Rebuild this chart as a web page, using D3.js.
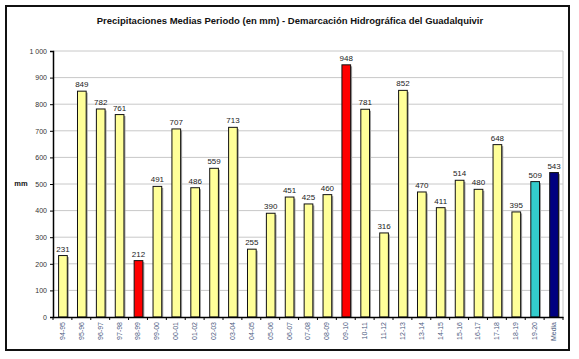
<!DOCTYPE html>
<html><head><meta charset="utf-8">
<script src="https://cdn.jsdelivr.net/npm/d3@7"></script>
<style>body{margin:0;background:#fff}svg{display:block;font-family:Arial,"Liberation Sans",sans-serif}</style>
</head><body>
<svg id="c" width="579" height="359"></svg>
<script>
const categories = ["94-95","95-96","96-97","97-98","98-99","99-00","00-01","01-02","02-03","03-04","04-05","05-06","06-07","07-08","08-09","09-10","10-11","11-12","12-13","13-14","14-15","15-16","16-17","17-18","18-19","19-20","Media"];
const values = [231,849,782,761,212,491,707,486,559,713,255,390,451,425,460,948,781,316,852,470,411,514,480,648,395,509,543];
const barColors = ["#FFFF99","#FFFF99","#FFFF99","#FFFF99","#FF0000","#FFFF99","#FFFF99","#FFFF99","#FFFF99","#FFFF99","#FFFF99","#FFFF99","#FFFF99","#FFFF99","#FFFF99","#FF0000","#FFFF99","#FFFF99","#FFFF99","#FFFF99","#FFFF99","#FFFF99","#FFFF99","#FFFF99","#FFFF99","#33CCCC","#000080"];
const yTicks = [0,100,200,300,400,500,600,700,800,900,1000];
const yTickLabels = ["0","100","200","300","400","500","600","700","800","900","1 000"];
const title = "Precipitaciones Medias Periodo (en mm) - Demarcación Hidrográfica del Guadalquivir";

const svg = d3.select("#c");
const L = 53, R = 563, T = 51, B = 317;
const x = d3.scaleBand().domain(categories).range([L, R]).paddingInner(0).paddingOuter(0);
const y = d3.scaleLinear().domain([0, 1000]).range([B, T]);

// outer frame
svg.append("rect").attr("x", 6).attr("y", 6).attr("width", 563).attr("height", 344)
  .attr("fill", "#fff").attr("stroke", "#111").attr("stroke-width", 2);

// title
svg.append("text").attr("x", 290).attr("y", 24).attr("text-anchor", "middle")
  .attr("font-size", 9.5).attr("font-weight", "bold").attr("fill", "#111").text(title);

// gridlines
svg.append("g").selectAll("line").data(yTicks.slice(1)).join("line")
  .attr("x1", L).attr("x2", R).attr("y1", d => y(d)).attr("y2", d => y(d))
  .attr("stroke", "#c8c8c8").attr("stroke-width", 1);
// plot border right
svg.append("line").attr("x1", R).attr("x2", R).attr("y1", T).attr("y2", B)
  .attr("stroke", "#c8c8c8").attr("stroke-width", 1);

// bars shadow
const bw = x.bandwidth() * 0.46;
const bx = d => x(d) + (x.bandwidth() - bw) / 2 + 0.5;
svg.append("g").selectAll("rect").data(categories).join("rect")
  .attr("x", d => bx(d) + 1.5).attr("y", (d, i) => y(values[i]) + 1.5)
  .attr("width", bw).attr("height", (d, i) => B - y(values[i]) - 1.5)
  .attr("fill", "#a0a0a0");
svg.append("g").selectAll("rect").data(categories).join("rect")
  .attr("x", d => bx(d)).attr("y", (d, i) => y(values[i]))
  .attr("width", bw).attr("height", (d, i) => B - y(values[i]))
  .attr("fill", (d, i) => barColors[i]).attr("stroke", "#111").attr("stroke-width", 1);

// value labels
svg.append("g").selectAll("text").data(categories).join("text")
  .attr("x", d => x(d) + x.bandwidth() / 2 + 0.5).attr("y", (d, i) => y(values[i]) - 4)
  .attr("text-anchor", "middle").attr("font-size", 8).attr("fill", "#222")
  .text((d, i) => values[i]);

// y axis
const yAxis = d3.axisLeft(y).tickValues(yTicks).tickSize(3)
  .tickFormat((d, i) => yTickLabels[i]);
const gy = svg.append("g").attr("transform", `translate(${L},0)`).call(yAxis);
gy.select(".domain").attr("stroke", "#000").attr("stroke-width", 1.5);
gy.selectAll(".tick line").attr("stroke", "#000");
gy.selectAll(".tick text").attr("font-size", 7).attr("fill", "#333").attr("x", -6)
  .attr("font-family", "Arial, Liberation Sans, sans-serif");

// x axis
const xAxis = d3.axisBottom(x).tickSize(0).tickFormat(d => d);
const gx = svg.append("g").attr("transform", `translate(0,${B})`).call(xAxis);
gx.select(".domain").attr("stroke", "#000").attr("stroke-width", 1.5);
gx.selectAll(".tick text").attr("font-size", 7).attr("fill", "#4a5a80")
  .attr("font-family", "Arial, Liberation Sans, sans-serif")
  .attr("transform", "rotate(-90)").attr("text-anchor", "end")
  .attr("x", -5).attr("y", 0).attr("dy", "0.35em");
// category separator ticks
svg.append("g").selectAll("line").data(categories.concat([null])).join("line")
  .attr("x1", (d, i) => L + i * x.step()).attr("x2", (d, i) => L + i * x.step())
  .attr("y1", B).attr("y2", B + 3).attr("stroke", "#000");

// mm label
svg.append("text").attr("x", 21).attr("y", 186).attr("text-anchor", "middle")
  .attr("font-size", 7.5).attr("font-weight", "bold").attr("fill", "#111").text("mm");
</script>
</body></html>
